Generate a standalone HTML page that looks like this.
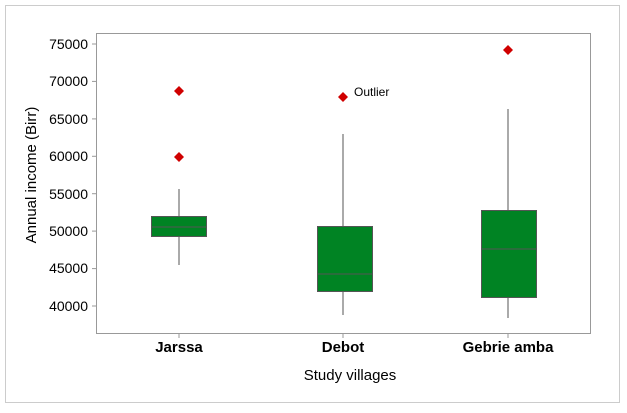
<!DOCTYPE html>
<html><head><style>body{margin:0;background:#fff}</style></head><body>
<svg width="627" height="408" xmlns="http://www.w3.org/2000/svg" font-family="Liberation Sans, sans-serif">
<rect x="0" y="0" width="627" height="408" fill="#fff"/>
<rect x="5.5" y="5.5" width="614" height="397" fill="none" stroke="#ccc"/>
<rect x="96.5" y="33.5" width="494" height="300" fill="none" stroke="#999"/>
<g stroke="#999">
<line x1="92" y1="44" x2="96" y2="44"/><line x1="92" y1="81.4" x2="96" y2="81.4"/><line x1="92" y1="118.9" x2="96" y2="118.9"/><line x1="92" y1="156.3" x2="96" y2="156.3"/><line x1="92" y1="193.7" x2="96" y2="193.7"/><line x1="92" y1="231.1" x2="96" y2="231.1"/><line x1="92" y1="268.6" x2="96" y2="268.6"/><line x1="92" y1="306" x2="96" y2="306"/>
<line x1="179" y1="334" x2="179" y2="338"/><line x1="343" y1="334" x2="343" y2="338"/><line x1="508" y1="334" x2="508" y2="338"/>
</g>
<g font-size="14" fill="#000" text-anchor="end">
<text x="88" y="49">75000</text><text x="88" y="86">70000</text><text x="88" y="124">65000</text><text x="88" y="161">60000</text><text x="88" y="199">55000</text><text x="88" y="236">50000</text><text x="88" y="273">45000</text><text x="88" y="311">40000</text>
</g>
<g stroke="#555" stroke-width="1">
<line x1="179" y1="189" x2="179" y2="265"/>
<rect x="151.5" y="216.5" width="55" height="20" fill="#008323"/>
<line x1="151" y1="227" x2="207" y2="227"/>
<line x1="343" y1="134" x2="343" y2="315"/>
<rect x="317.5" y="226.5" width="55" height="65" fill="#008323"/>
<line x1="317" y1="274" x2="372" y2="274"/>
<line x1="508" y1="109" x2="508" y2="318"/>
<rect x="481.5" y="210.5" width="55" height="87" fill="#008323"/>
<line x1="481" y1="249" x2="536" y2="249"/>
</g>
<g fill="#d00000">
<path d="M179 86l5 5-5 5-5-5z"/><path d="M179 152l5 5-5 5-5-5z"/><path d="M343 92l5 5-5 5-5-5z"/><path d="M508 45l5 5-5 5-5-5z"/>
</g>
<text x="354" y="96" font-size="12">Outlier</text>
<g font-size="15" font-weight="bold" text-anchor="middle">
<text x="179" y="352">Jarssa</text><text x="343" y="352">Debot</text><text x="508" y="352">Gebrie amba</text>
</g>
<text x="350" y="380" font-size="15" text-anchor="middle">Study villages</text>
<text transform="translate(36,175) rotate(-90)" font-size="15" text-anchor="middle">Annual income (Birr)</text>
</svg>
</body></html>
